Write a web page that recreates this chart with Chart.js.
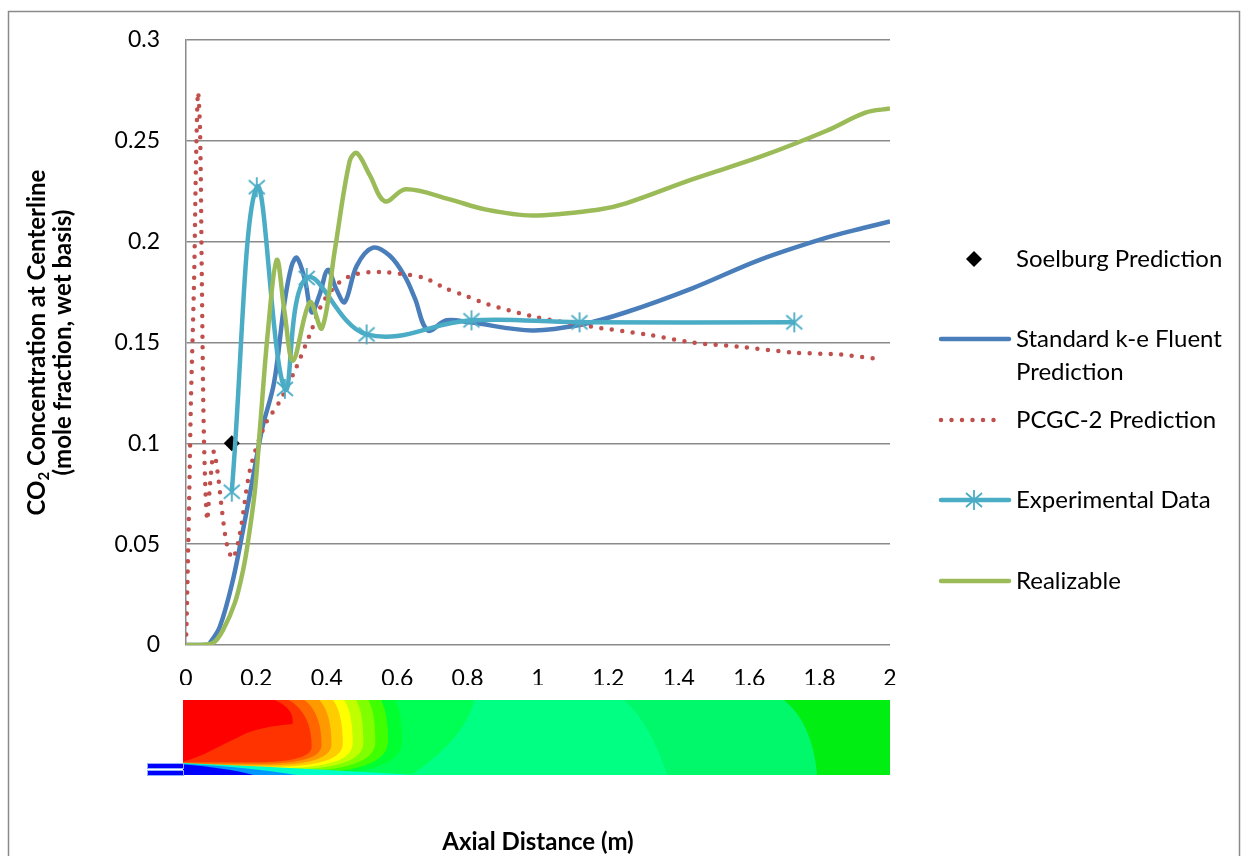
<!DOCTYPE html>
<html>
<head>
<meta charset="utf-8">
<script src="https://cdn.jsdelivr.net/npm/chart.js@4.4.1/dist/chart.umd.min.js"></script>
<style>
  html, body { margin: 0; padding: 0; background: #fff; }
  canvas { display: block; }
</style>
</head>
<body>
<canvas id="chart" width="1248" height="856"></canvas>
<script>
// CO2 concentration along the centerline

const xTickLabels = ['0', '0.2', '0.4', '0.6', '0.8', '1', '1.2', '1.4', '1.6', '1.8', '2'];
const yTickLabels = ['0', '0.05', '0.1', '0.15', '0.2', '0.25', '0.3'];

const soelburgX = [0.13];
const soelburgY = [0.1];

const keX = [0, 0.06, 0.068, 0.096, 0.133, 0.162, 0.187, 0.216, 0.25, 0.28, 0.3, 0.315, 0.338, 0.357, 0.38, 0.403, 0.428, 0.451, 0.485, 0.531, 0.579, 0.621, 0.65, 0.687, 0.74, 0.806, 0.984, 1.126, 1.25, 1.44, 1.63, 1.82, 1.93, 2.0];
const keY = [0, 0, 0.001, 0.009, 0.032, 0.057, 0.080, 0.107, 0.130, 0.170, 0.188, 0.192, 0.181, 0.165, 0.174, 0.186, 0.176, 0.170, 0.188, 0.197, 0.193, 0.183, 0.172, 0.156, 0.161, 0.160, 0.156, 0.159, 0.165, 0.177, 0.191, 0.202, 0.207, 0.210];

const pcgcX = [0, 0.003, 0.009, 0.014, 0.023, 0.028, 0.034, 0.04, 0.045, 0.051, 0.06, 0.068, 0.079, 0.091, 0.102, 0.116, 0.133, 0.153, 0.182, 0.224, 0.267, 0.309, 0.352, 0.389, 0.437, 0.485, 0.55, 0.613, 0.678, 0.735, 0.797, 0.857, 0.984, 1.146, 1.308, 1.438, 1.566, 1.728, 1.861, 1.96];
const pcgcY = [0, 0.022, 0.072, 0.121, 0.181, 0.235, 0.274, 0.255, 0.181, 0.102, 0.062, 0.079, 0.096, 0.084, 0.067, 0.050, 0.043, 0.055, 0.087, 0.109, 0.121, 0.136, 0.154, 0.170, 0.180, 0.184, 0.185, 0.184, 0.182, 0.177, 0.173, 0.169, 0.163, 0.158, 0.154, 0.150, 0.148, 0.145, 0.144, 0.142];

const expX = [0.13, 0.201, 0.281, 0.343, 0.513, 0.811, 1.118, 1.728];
const expY = [0.076, 0.227, 0.127, 0.182, 0.154, 0.161, 0.160, 0.160];

const realX = [0, 0.04, 0.077, 0.105, 0.139, 0.162, 0.176, 0.196, 0.21, 0.233, 0.258, 0.28, 0.304, 0.352, 0.386, 0.423, 0.465, 0.485, 0.522, 0.565, 0.624, 0.749, 0.85, 0.984, 1.174, 1.25, 1.44, 1.63, 1.82, 1.93, 2.0];
const realY = [0, 0, 0.001, 0.0074, 0.021, 0.037, 0.051, 0.077, 0.107, 0.156, 0.191, 0.165, 0.141, 0.170, 0.157, 0.196, 0.240, 0.244, 0.233, 0.220, 0.226, 0.221, 0.216, 0.213, 0.216, 0.219, 0.231, 0.242, 0.255, 0.264, 0.266];

const FONT = 'Lato, "Open Sans", sans-serif';

function pts(xs, ys) {
    return xs.map((x, i) => ({ x: x, y: ys[i] }));
}

// Excel style "star" marker: vertical bar plus an X
function makeStar(color) {
    const c = document.createElement('canvas');
    c.width = 22; c.height = 22;
    const g = c.getContext('2d');
    g.strokeStyle = color;
    g.lineWidth = 1.8;
    g.beginPath();
    g.moveTo(11, 1); g.lineTo(11, 21);
    g.moveTo(3, 4); g.lineTo(19, 18);
    g.moveTo(19, 4); g.lineTo(3, 18);
    g.stroke();
    return c;
}
const starMarker = makeStar('#4bacc6');

// outer chart border
const framePlugin = {
    id: 'frame',
    beforeDraw(chart) {
        const c = chart.ctx;
        c.save();
        c.fillStyle = '#fff';
        c.fillRect(0, 0, chart.width, chart.height);
        c.strokeStyle = '#8a8a8a';
        c.lineWidth = 1.5;
        c.strokeRect(8.5, 11.5, 1231, 900);
        c.restore();
    }
};

// flame contour picture under the x axis
const contourPlugin = {
    id: 'contour',
    afterDraw(chart) {
        const c = chart.ctx;
        const xs = chart.scales.x;
        const L = xs.getPixelForValue(0) - 3;
        const R = xs.getPixelForValue(2);
        const T = 700, H = 75, W = R - L;
        const X = u => L + u * W;
        const Y = v => T + v * H;

        function shape(color, cmds) {
            c.fillStyle = color;
            c.beginPath();
            cmds.forEach(k => {
                if (k[0] === 'M') c.moveTo(X(k[1]), Y(k[2]));
                else if (k[0] === 'L') c.lineTo(X(k[1]), Y(k[2]));
                else if (k[0] === 'Q') c.quadraticCurveTo(X(k[1]), Y(k[2]), X(k[3]), Y(k[4]));
            });
            c.closePath();
            c.fill();
        }

        c.save();
        c.beginPath();
        c.rect(L, T, W, H);
        c.clip();

        shape('#00ff82', [['M', 0, 0], ['L', 1, 0], ['L', 1, 1], ['L', 0, 1]]);
        shape('#00f86a', [['M', 0.624, 0], ['L', 1, 0], ['L', 1, 1], ['L', 0.685, 1], ['Q', 0.66, 0.3, 0.624, 0]]);
        shape('#00ee12', [['M', 0.85, 0], ['L', 1, 0], ['L', 1, 1], ['L', 0.897, 1], ['Q', 0.89, 0.3, 0.85, 0]]);
        shape('#00ff55', [['M', 0, 0], ['L', 0.412, 0], ['Q', 0.40, 0.5, 0.323, 1], ['L', 0, 1]]);

        const bands = [
            ['#00ff30', 0.30, 0.31, 0.55, 1.0],
            ['#40ff00', 0.28, 0.29, 0.55, 0.98],
            ['#80ff00', 0.262, 0.272, 0.56, 0.95],
            ['#c0ff00', 0.245, 0.255, 0.57, 0.93],
            ['#ffff00', 0.228, 0.24, 0.58, 0.91],
            ['#ffcc00', 0.212, 0.226, 0.58, 0.89],
            ['#ff9900', 0.193, 0.21, 0.59, 0.87],
            ['#ff6600', 0.172, 0.196, 0.6, 0.85],
            ['#ff3300', 0.15, 0.182, 0.62, 0.83]
        ];
        bands.forEach(b => {
            const [col, t, r, vr, bot] = b;
            shape(col, [['M', 0, 0], ['L', t, 0], ['Q', r, vr * 0.3, r, vr], ['Q', r, bot, r * 0.55, bot], ['L', 0, bot]]);
        });
        shape('#ff0000', [['M', 0, 0], ['L', 0.13, 0], ['Q', 0.158, 0.12, 0.155, 0.32], ['Q', 0.12, 0.34, 0.09, 0.44], ['L', 0.03, 0.72], ['Q', 0.01, 0.8, 0, 0.82]]);

        // jet along the bottom edge
        shape('#00ffc8', [['M', 0, 0.84], ['Q', 0.15, 0.9, 0.33, 1], ['L', 0, 1]]);
        shape('#0096ff', [['M', 0, 0.85], ['Q', 0.1, 0.9, 0.16, 1], ['L', 0, 1]]);
        shape('#0000ff', [['M', 0, 0.86], ['Q', 0.06, 0.9, 0.1, 1], ['L', 0, 1]]);
        c.restore();

        // inlet pipes
        c.save();
        c.fillStyle = '#0000ff';
        c.fillRect(147, 764, L - 147, 4);
        c.fillRect(147, 771, L - 147, 4);
        c.strokeStyle = '#8fb0ff';
        c.lineWidth = 1;
        c.strokeRect(147.5, 763.5, L - 147, 5);
        c.strokeRect(147.5, 770.5, L - 147, 5);
        c.restore();
    }
};

// axis titles (y title has a subscript)
const titlePlugin = {
    id: 'titles',
    afterDraw(chart) {
        const c = chart.ctx;
        const a = chart.chartArea;
        c.save();
        c.fillStyle = '#000';
        c.font = 'bold 24px ' + FONT;
        c.textAlign = 'center';
        c.textBaseline = 'middle';
        c.fillText('Axial Distance (m)', (a.left + a.right) / 2, 842);

        const cy = (a.top + a.bottom) / 2;
        c.translate(37, cy);
        c.rotate(-Math.PI / 2);
        const big = 'bold 24px ' + FONT;
        const small = 'bold 15px ' + FONT;
        c.font = big;
        const wCO = c.measureText('CO').width;
        const wRest = c.measureText(' Concentration at Centerline').width;
        c.font = small;
        const w2 = c.measureText('2').width;
        let x = -(wCO + w2 + wRest) / 2;
        c.textAlign = 'left';
        c.textBaseline = 'alphabetic';
        c.font = big;
        c.fillText('CO', x, 8);
        x += wCO;
        c.font = small;
        c.fillText('2', x, 12);
        x += w2;
        c.font = big;
        c.fillText(' Concentration at Centerline', x, 8);
        c.textAlign = 'center';
        c.fillText('(mole fraction, wet basis)', 0, 34);
        c.restore();
    }
};

// legend drawn to the right of the plot
const legendPlugin = {
    id: 'sideLegend',
    afterDraw(chart) {
        const c = chart.ctx;
        const rows = [259, 339, 420, 500, 581];
        const x0 = 939, x1 = 1009, tx = 1016;
        c.save();
        c.font = '24px ' + FONT;
        c.textBaseline = 'middle';
        c.textAlign = 'left';
        chart.data.datasets.forEach((ds, k) => {
            const y = rows[k];
            const mid = (x0 + x1) / 2;
            if (ds.showLine === false) {
                c.fillStyle = ds.backgroundColor;
                c.beginPath();
                c.moveTo(mid, y - 8); c.lineTo(mid + 8, y); c.lineTo(mid, y + 8); c.lineTo(mid - 8, y);
                c.closePath();
                c.fill();
            } else {
                c.strokeStyle = ds.borderColor;
                c.lineWidth = ds.borderWidth;
                c.lineCap = 'round';
                c.setLineDash(ds.borderDash || []);
                c.beginPath();
                c.moveTo(x0 + 2, y);
                c.lineTo(ds.borderDash ? x1 - 6 : x1, y);
                c.stroke();
                c.setLineDash([]);
                if (ds.pointRadius > 0) {
                    c.drawImage(starMarker, mid - 11, y - 11);
                }
            }
            // wrap label to the legend width
            const words = ds.label.split(' ');
            const lines = [];
            let cur = '';
            words.forEach(w => {
                const t = cur ? cur + ' ' + w : w;
                if (c.measureText(t).width > 222 && cur) { lines.push(cur); cur = w; }
                else cur = t;
            });
            lines.push(cur);
            c.fillStyle = '#000';
            lines.forEach((ln, i) => c.fillText(ln, tx, y + i * 33));
        });
        c.restore();
    }
};

const ctx = document.getElementById('chart').getContext('2d');
new Chart(ctx, {
    type: 'line',
    data: {
        datasets: [
            {
                label: 'Soelburg Prediction',
                data: pts(soelburgX, soelburgY),
                showLine: false,
                pointStyle: 'rectRot',
                pointRadius: 8,
                backgroundColor: '#000',
                borderColor: '#000',
                borderWidth: 0,
                order: 5
            },
            {
                label: 'Standard k-e Fluent Prediction',
                data: pts(keX, keY),
                borderColor: '#4a7ebb',
                borderWidth: 4.5,
                pointRadius: 0,
                tension: 0.35,
                order: 4
            },
            {
                label: 'PCGC-2 Prediction',
                data: pts(pcgcX, pcgcY),
                borderColor: '#c0504d',
                borderWidth: 4.5,
                borderDash: [0, 10.5],
                borderCapStyle: 'round',
                pointRadius: 0,
                tension: 0.3,
                order: 3
            },
            {
                label: 'Experimental Data',
                data: pts(expX, expY),
                borderColor: '#4bacc6',
                borderWidth: 4.5,
                pointStyle: starMarker,
                pointRadius: 10,
                tension: 0.4,
                order: 2
            },
            {
                label: 'Realizable',
                data: pts(realX, realY),
                borderColor: '#9bbb59',
                borderWidth: 4.5,
                pointRadius: 0,
                tension: 0.35,
                order: 1
            }
        ]
    },
    options: {
        responsive: false,
        animation: false,
        layout: { padding: { left: 0, top: 40, right: 358, bottom: 171 } },
        plugins: {
            legend: { display: false },
            tooltip: { enabled: false }
        },
        scales: {
            x: {
                type: 'linear',
                min: 0,
                max: 2,
                afterFit: s => { s.height = 40; },
                grid: { display: false, drawTicks: false },
                border: { display: false },
                ticks: {
                    stepSize: 0.2,
                    padding: 20,
                    maxRotation: 0,
                    color: '#000',
                    font: { family: FONT, size: 23 },
                    callback: (v, i) => xTickLabels[i]
                }
            },
            y: {
                min: 0,
                max: 0.3,
                afterFit: s => { s.width = 186; },
                grid: { color: '#8a8a8a', lineWidth: 1.5, drawTicks: false },
                border: { display: true, color: '#8a8a8a', width: 1.5 },
                ticks: {
                    stepSize: 0.05,
                    padding: 26,
                    color: '#000',
                    font: { family: FONT, size: 23 },
                    callback: (v, i) => yTickLabels[i]
                }
            }
        }
    },
    plugins: [framePlugin, contourPlugin, titlePlugin, legendPlugin]
});
</script>
</body>
</html>
